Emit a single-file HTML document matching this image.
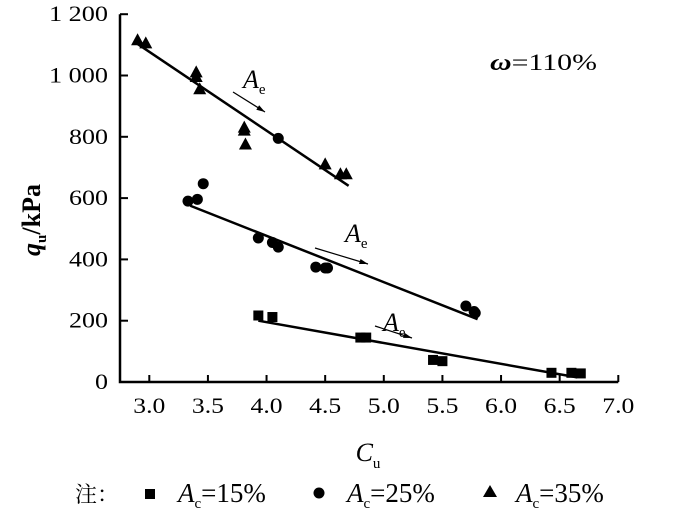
<!DOCTYPE html>
<html><head><meta charset="utf-8"><style>
body{margin:0;background:#fff}
svg text{font-family:"Liberation Serif","Noto Serif CJK SC",serif;fill:#000}
</style></head><body>
<svg width="700" height="517" viewBox="0 0 700 517">
<g id="axes"></g>
<g id="marks"></g>
<text x="490" y="70" font-size="23" textLength="107" lengthAdjust="spacingAndGlyphs"><tspan font-style="italic" font-weight="bold">ω</tspan>=110%</text>
<text transform="translate(40,220) rotate(-90)" font-size="26" font-weight="bold" text-anchor="middle"><tspan font-style="italic">q</tspan><tspan font-size="15" dy="6">u</tspan><tspan dy="-6">/kPa</tspan></text>
<text x="368" y="461" font-size="26" font-style="italic" text-anchor="middle">C<tspan font-size="15" font-style="normal" dy="7">u</tspan></text>
<g>
<text x="75" y="502" font-size="22" font-family="Noto Serif CJK SC, serif">注：</text>
<rect x="145" y="489" width="10" height="10"/>
<text x="178" y="502" font-size="27"><tspan font-style="italic">A</tspan><tspan font-size="15" dy="6">c</tspan><tspan dy="-6">=15%</tspan></text>
<circle cx="319" cy="493" r="5.5"/>
<text x="347" y="502" font-size="27"><tspan font-style="italic">A</tspan><tspan font-size="15" dy="6">c</tspan><tspan dy="-6">=25%</tspan></text>
<polygon points="490,485 483,497 497,497"/>
<text x="516" y="502" font-size="27"><tspan font-style="italic">A</tspan><tspan font-size="15" dy="6">c</tspan><tspan dy="-6">=35%</tspan></text>
</g>
</svg>
<script>
const xTicks=[3.0,3.5,4.0,4.5,5.0,5.5,6.0,6.5,7.0];
const yTicks=[0,200,400,600,800,1000,1200];
const yTickLabels=["0","200","400","600","800","1 000","1 200"];
const sqX=[3.93,4.05,4.8,4.85,5.42,5.5,6.43,6.6,6.68];
const sqY=[217,212,145,145,72,68,30,30,28];
const ciX=[3.33,3.41,3.46,3.93,4.05,4.1,4.42,4.5,4.52,5.7,5.77,5.78,4.1];
const ciY=[590,596,647,470,455,440,375,372,372,248,230,225,795];
const trX=[2.9,2.97,3.4,3.4,3.43,3.81,3.81,3.82,4.5,4.63,4.68];
const trY=[1115,1105,1010,995,955,830,820,775,710,678,678];
const fitX=[[3.93,6.65],[3.35,5.8],[2.9,4.7]];
const fitY=[[200,15],[575,205],[1103,640]];
const NS="http://www.w3.org/2000/svg";
const X=v=>149.3+(v-3)*117.25;
const Y=v=>382-v*0.3065;
const axes=document.getElementById('axes'),marks=document.getElementById('marks');
function mk(tag,attrs,parent){const e=document.createElementNS(NS,tag);for(const k in attrs)e.setAttribute(k,attrs[k]);parent.appendChild(e);return e;}
function tw(s){let w=0;for(const c of s){w+=c===' '?7:(c==='.'?6:13);}return w;}
let a=mk('path',{d:`M120,${Y(1200)}V382H${X(7)}`,stroke:'#000','stroke-width':2.5,fill:'none'},axes);


xTicks.forEach(v=>{
 let t=mk('line',{x1:X(v),x2:X(v),y1:382,y2:375,stroke:'#000','stroke-width':2},axes);
 
 
 const s=v.toFixed(1);
 let l=mk('text',{x:X(v),y:413,'font-size':22,'text-anchor':'middle',textLength:tw(s),lengthAdjust:'spacingAndGlyphs'},axes);l.textContent=s;
 
 
});
yTicks.forEach((v,i)=>{
 let t=mk('line',{x1:120,x2:128,y1:Y(v),y2:Y(v),stroke:'#000','stroke-width':2},axes);
 
 
 const s=yTickLabels[i];
 let l=mk('text',{x:108,y:Y(v)+7,'font-size':22,'text-anchor':'end',textLength:tw(s),lengthAdjust:'spacingAndGlyphs'},axes);l.textContent=s;
 
 
});
fitX.forEach((fx,i)=>{
 let l=mk('line',{x1:X(fx[0]),y1:Y(fitY[i][0]),x2:X(fx[1]),y2:Y(fitY[i][1]),stroke:'#000','stroke-width':2.5},marks);
 
 
});
sqX.forEach((v,i)=>{let r=mk('rect',{x:X(v)-5,y:Y(sqY[i])-5,width:10,height:10},marks);
 
 });
ciX.forEach((v,i)=>{let c=mk('circle',{cx:X(v),cy:Y(ciY[i]),r:5.5},marks);
 
 });
trX.forEach((v,i)=>{const x=X(v),y=Y(trY[i]);let p=mk('polygon',{points:`${x},${y-7} ${x-6.5},${y+5} ${x+6.5},${y+5}`},marks);
 
 });
[[233,92,265,112,243,88],[315,248,368,264,345,242],[375,326,412,338,383,331]].forEach(q=>{
 let g=mk('g',{},marks);
 
 
 mk('line',{x1:q[0],y1:q[1],x2:q[2],y2:q[3],stroke:'#000','stroke-width':1.2},g);
 const ang=Math.atan2(q[3]-q[1],q[2]-q[0]);
 const hx=q[2],hy=q[3];
 mk('polygon',{points:`${hx},${hy} ${hx-9*Math.cos(ang-0.3)},${hy-9*Math.sin(ang-0.3)} ${hx-9*Math.cos(ang+0.3)},${hy-9*Math.sin(ang+0.3)}`},g);
 let t=mk('text',{x:q[4],y:q[5],'font-size':26,'font-style':'italic'},g);
 t.innerHTML='A<tspan font-size="15" font-style="normal" dy="6">e</tspan>';
});
</script>
</body></html>
